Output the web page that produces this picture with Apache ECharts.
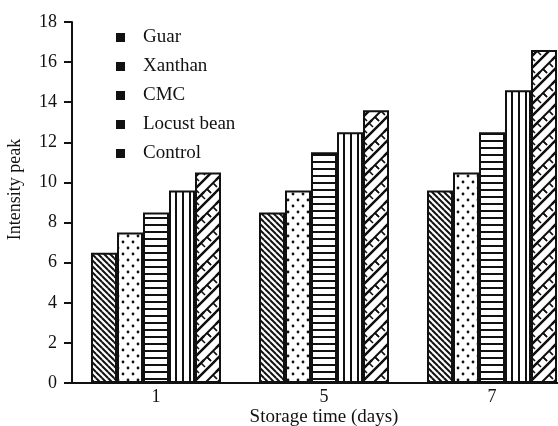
<!DOCTYPE html>
<html>
<head>
<meta charset="utf-8">
<script src="https://cdn.jsdelivr.net/npm/echarts@6/dist/echarts.min.js"></script>
<style>
html,body{margin:0;padding:0;background:#fff;}
#chart{width:558px;height:426px;}
</style>
</head>
<body>
<div id="chart"></div>
<script>
const categories = ['1', '5', '7'];
const seriesNames = ['Guar', 'Xanthan', 'CMC', 'Locust bean', 'Control'];
const guar = [6.5, 8.5, 9.6];
const xanthan = [7.5, 9.6, 10.5];
const cmc = [8.5, 11.5, 12.5];
const locustBean = [9.6, 12.5, 14.6];
const control = [10.5, 13.6, 16.6];
const yTicks = [0, 2, 4, 6, 8, 10, 12, 14, 16, 18];

function makePattern(w, h, draw) {
  const c = document.createElement('canvas');
  c.width = w; c.height = h;
  const ctx = c.getContext('2d');
  ctx.fillStyle = '#fff';
  ctx.fillRect(0, 0, w, h);
  ctx.strokeStyle = '#111';
  ctx.fillStyle = '#111';
  for (let dx = -1; dx <= 1; dx++) {
    for (let dy = -1; dy <= 1; dy++) {
      ctx.save();
      ctx.translate(dx * w, dy * h);
      draw(ctx);
      ctx.restore();
    }
  }
  return { image: c, repeat: 'repeat' };
}

const patGuar = makePattern(6, 6, ctx => {
  ctx.lineWidth = 2;
  ctx.beginPath();
  ctx.moveTo(0, 0); ctx.lineTo(6, 6);
  ctx.stroke();
});
const patXanthan = makePattern(10, 12, ctx => {
  ctx.beginPath(); ctx.arc(3, 2, 1.4, 0, Math.PI * 2); ctx.fill();
  ctx.beginPath(); ctx.arc(8, 8, 1.4, 0, Math.PI * 2); ctx.fill();
});
const patCMC = makePattern(4, 7, ctx => {
  ctx.fillRect(0, 0, 4, 2);
});
const patLocust = makePattern(7, 4, ctx => {
  ctx.fillRect(0, 0, 2, 4);
});
const patControl = makePattern(24, 24, ctx => {
  ctx.lineWidth = 2;
  ctx.beginPath();
  for (let k = 0; k <= 4; k++) {
    ctx.moveTo(0, 12 * k); ctx.lineTo(12 * k, 0);
  }
  ctx.stroke();
  ctx.lineWidth = 1.6;
  ctx.beginPath();
  ctx.moveTo(3, 9); ctx.lineTo(7, 13);
  ctx.moveTo(15, -3); ctx.lineTo(19, 1);
  ctx.moveTo(9, 3); ctx.lineTo(13, 7);
  ctx.moveTo(15, 21); ctx.lineTo(19, 25);
  ctx.moveTo(21, 15); ctx.lineTo(25, 19);
  ctx.moveTo(3, 21); ctx.lineTo(7, 25);
  ctx.stroke();
});

const patterns = [patGuar, patXanthan, patCMC, patLocust, patControl];
const values = [guar, xanthan, cmc, locustBean, control];

const chart = echarts.init(document.getElementById('chart'), null, { renderer: 'canvas' });
const font = 'Liberation Serif';

chart.setOption({
  animation: false,
  backgroundColor: '#fff',
  textStyle: { fontFamily: font, color: '#111' },
  grid: { left: 72, width: 504, top: 22, bottom: 43, containLabel: false, outerBoundsMode: 'none' },
  legend: {
    orient: 'vertical',
    left: 111,
    top: 23,
    itemWidth: 9,
    itemHeight: 9,
    itemGap: 10,
    icon: 'rect',
    textStyle: { fontFamily: font, fontSize: 19, color: '#111', padding: [0, 0, 0, 13] },
    data: seriesNames.map(n => ({ name: n, itemStyle: { color: '#111', borderWidth: 0 } }))
  },
  xAxis: {
    type: 'category',
    data: categories,
    name: 'Storage time (days)',
    nameLocation: 'middle',
    nameGap: 25,
    nameMoveOverlap: false,
    nameTextStyle: { fontFamily: font, fontSize: 19, color: '#111' },
    axisLine: { lineStyle: { color: '#111', width: 2 } },
    axisTick: { inside: true, length: 8, lineStyle: { color: '#111', width: 2 } },
    axisLabel: { fontFamily: font, fontSize: 18, color: '#111', margin: 5 }
  },
  yAxis: {
    type: 'value',
    min: yTicks[0],
    max: yTicks[yTicks.length - 1],
    interval: 2,
    name: 'Intensity peak',
    nameLocation: 'middle',
    nameGap: 48,
    nameMoveOverlap: false,
    nameTextStyle: { fontFamily: font, fontSize: 18, color: '#111', padding: [0, 0, 0, 26] },
    splitLine: { show: false },
    axisLine: { show: true, lineStyle: { color: '#111', width: 2 } },
    axisTick: { show: true, length: 8, lineStyle: { color: '#111', width: 2 } },
    axisLabel: { fontFamily: font, fontSize: 18, color: '#111', margin: 15 }
  },
  series: seriesNames.map((n, i) => ({
    name: n,
    type: 'bar',
    data: values[i],
    barWidth: 26,
    barGap: '0%',
    itemStyle: { color: patterns[i], borderColor: '#111', borderWidth: 2 }
  }))
});
</script>
</body>
</html>
